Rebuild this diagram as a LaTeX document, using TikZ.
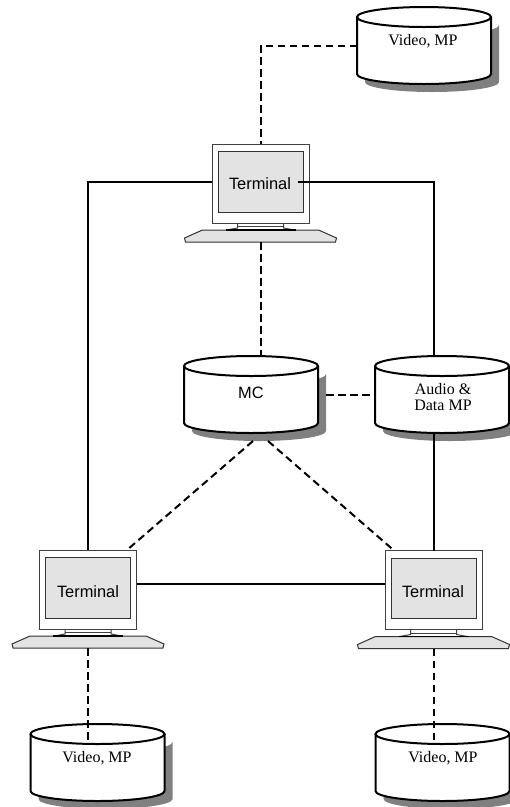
\documentclass[tikz,border=0pt]{standalone}
\usepackage{fontspec}
\setmainfont{Liberation Serif}
\setsansfont{Liberation Sans}
\usetikzlibrary{calc}
\tikzset{
  x=1pt, y=1pt,
  solidlink/.style={line width=2pt},
  dashlink/.style={line width=2pt, dash pattern=on 7.5pt off 4.5pt},
  boxlabel/.style={font=\fontsize{16}{16}\selectfont, inner sep=0pt, align=center},
  termlabel/.style={font=\sffamily\fontsize{16.4}{16}\selectfont, inner sep=0pt},
  pics/store/.style={code={
    \fill[black!50] (-59, 20.5) arc[start angle=180, end angle=360, x radius=67, y radius=10]
      -- (75, -36.5) arc[start angle=0, end angle=-180, x radius=67, y radius=10] -- cycle;
    \draw[line width=2pt, fill=white] (-67, 28.5) -- (-67, -28.5)
      arc[start angle=180, end angle=360, x radius=67, y radius=10] -- (67, 28.5);
    \draw[line width=2pt, fill=white] (0, 28.5) ellipse (67 and 10);
    \node (-box) [minimum width=134pt, minimum height=77pt, inner sep=0pt, outer sep=0pt] at (0, 0) {};
    \coordinate (-floor) at (0, 18.5);
  }},
  pics/terminal/.style={code={
    \draw[line width=1pt, black!75, fill=white] (-23, -39.5) -- (-23, -44.5) -- (-34, -46.5) -- (34, -46.5) -- (23, -44.5) -- (23, -39.5);
    \draw[line width=1pt, black!75] (-23, -43) -- (23, -43);
    \draw[line width=1pt, black!80, fill=black!11] (-58, -46.5) -- (58, -46.5) -- (76, -54.5) -- (75, -58.5) -- (-75, -58.5) -- (-76, -54.5) -- cycle;
    \draw[line width=1.4pt] (-35, -46.5) -- (35, -46.5);
    \node (-mon) [draw=black!75, line width=1pt, fill=white, minimum width=97pt, minimum height=79pt, inner sep=0pt, outer sep=0pt] at (0, 0) {};
    \draw[line width=1pt, black!80, fill=black!11] (-42.5, 32) rectangle (42.5, -28.5);
    \coordinate (-kbd) at (0, -58.5);
  }}
}
\begin{document}
\begin{tikzpicture}
  \useasboundingbox (0, 0) rectangle (510, -807);
  \pic (videotop) at (424, -45.5) {store};
  \pic (mc) at (251, -394.5) {store};
  \pic (audio) at (442, -394.5) {store};
  \pic (videoleft) at (97.5, -762.5) {store};
  \pic (videoright) at (442.5, -762.5) {store};
  \pic (termtop) at (260.5, -183.5) {terminal};
  \pic (termleft) at (88, -589.5) {terminal};
  \pic (termright) at (433.5, -590) {terminal};
  \node (labeltop) [boxlabel] at (423, -41.5) {Video, MP};
  \node (labelmc) [termlabel] at (251, -393) {MC};
  \node (labelaudio) [boxlabel] at (443, -397) {Audio \&\\Data MP};
  \node (labelleft) [boxlabel] at (97, -758.5) {Video, MP};
  \node (labelright) [boxlabel] at (443, -758.5) {Video, MP};
  \node (nametop) [termlabel] at (260, -184) {Terminal};
  \node (nameleft) [termlabel] at (88, -592) {Terminal};
  \node (nameright) [termlabel] at (433, -592) {Terminal};
  \coordinate (tap) at (298, -182);
  \draw[dashlink] (videotop-box.west) -| (termtop-mon.north);
  \draw[dashlink] (termtop-kbd) -- (termtop-kbd |- mc-box.north);
  \draw[dashlink] ([xshift=8pt]mc-box.east) -- (audio-box.west);
  \draw[dashlink] ([shift={(2pt,-8pt)}]mc-box.south) -- ([xshift=-9.5pt]termleft-mon.north east);
  \draw[dashlink] ([shift={(17pt,-8pt)}]mc-box.south) -- ([xshift=9pt]termright-mon.north west);
  \draw[dashlink] (termleft-kbd) -- (termleft-kbd |- videoleft-floor);
  \draw[dashlink] (termright-kbd) -- (termright-kbd |- videoright-floor);
  \draw[solidlink] ([yshift=1.5pt]termtop-mon.west) -| (termleft-mon.north);
  \draw[solidlink] (tap) -| ([xshift=-8.5pt]audio-box.north);
  \draw[line width=2.4pt] (tap) -- ++(40, 0);
  \draw[solidlink] ([xshift=-8.5pt]audio-box.south) -- ++(0,-8) -- (termright-mon.north);
  \draw[solidlink] ([yshift=5.5pt]termleft-mon.east) -- ([yshift=6pt]termright-mon.west);
\end{tikzpicture}
\end{document}
